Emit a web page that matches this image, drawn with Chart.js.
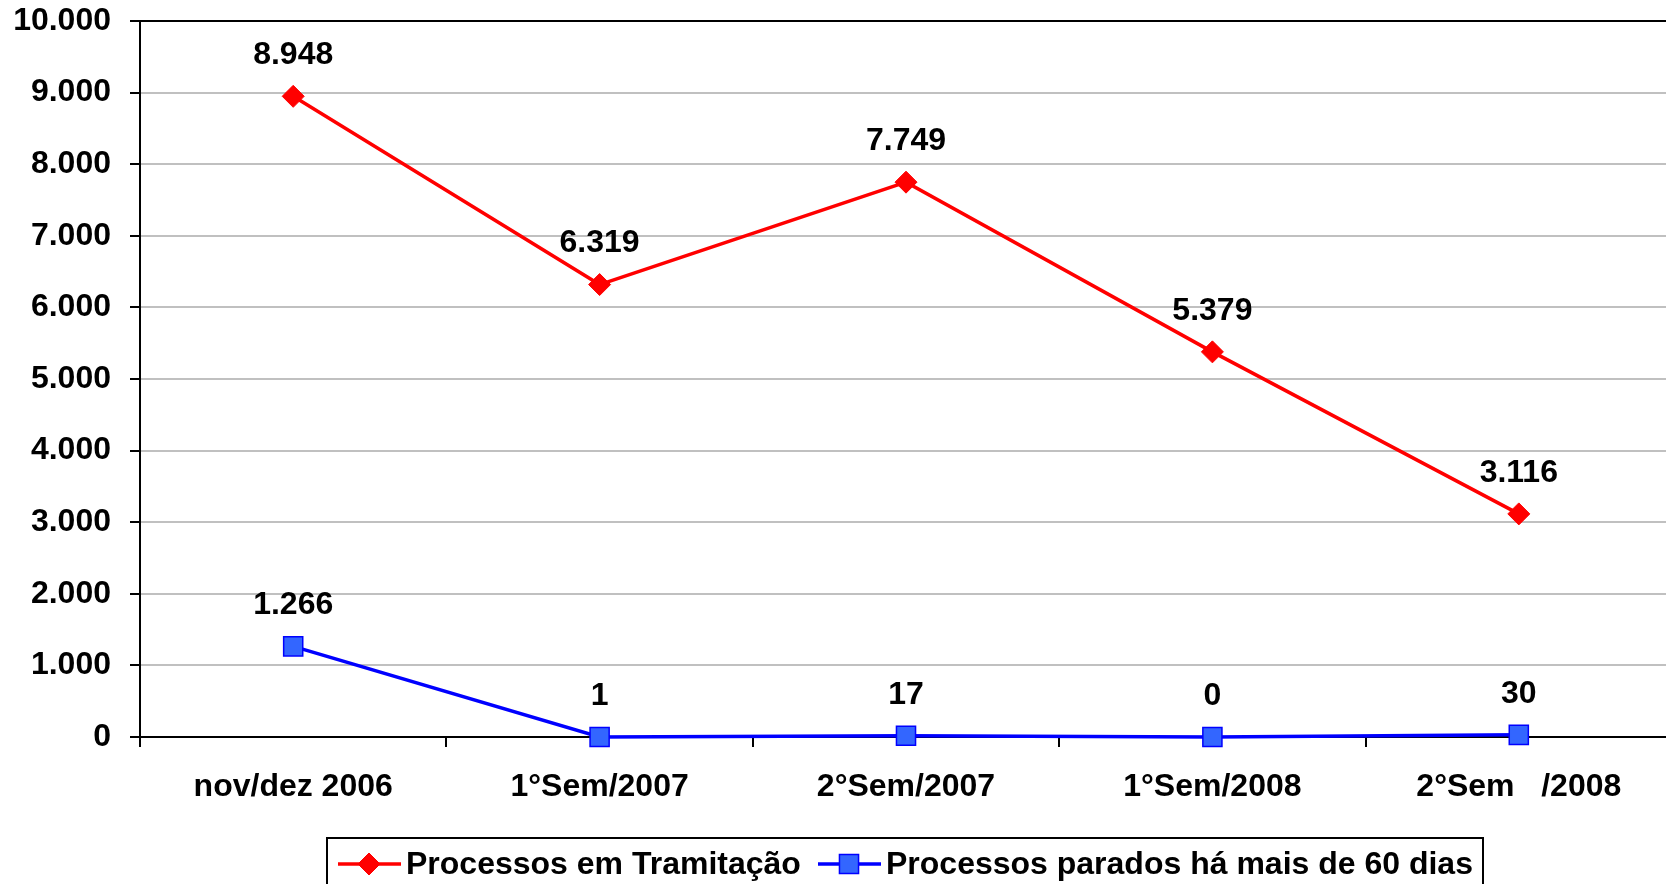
<!DOCTYPE html>
<html lang="pt">
<head>
    <meta charset="UTF-8">
    <title>Processos em Tramitação</title>
    <script src="https://cdn.jsdelivr.net/npm/chart.js"></script>
    <style>
        body {
            margin: 0;
            background: #ffffff;
            overflow: hidden;
        }
        canvas {
            display: block;
        }
    </style>
</head>
<body>
    <!-- um pouco mais largo que a janela: o gráfico original é cortado à direita -->
    <canvas id="grafico" width="1672" height="884"></canvas>

    <script>
        // dados
        const periodos = ['nov/dez 2006', '1°Sem/2007', '2°Sem/2007', '1°Sem/2008', '2°Sem   /2008'];
        const emTramitacao = [8948, 6319, 7749, 5379, 3116];
        const parados60 = [1266, 1, 17, 0, 30];
        const nomesSeries = ['Processos em Tramitação', 'Processos parados há mais de 60 dias'];
        const yMax = 10000;
        const yPasso = 1000;

        const fonte = '"Liberation Sans", Arial, sans-serif';

        // separador de milhar com ponto
        function fmt(v) {
            return String(v).replace(/\B(?=(\d{3})+(?!\d))/g, '.');
        }

        // rótulos de valor acima dos pontos
        const rotulos = {
            id: 'rotulos',
            afterDatasetsDraw(chart) {
                const ctx = chart.ctx;
                ctx.save();
                ctx.font = 'bold 32px ' + fonte;
                ctx.fillStyle = '#000';
                ctx.textAlign = 'center';
                ctx.textBaseline = 'middle';
                chart.data.datasets.forEach((ds, i) => {
                    const meta = chart.getDatasetMeta(i);
                    meta.data.forEach((pt, j) => {
                        ctx.fillText(fmt(ds.data[j]), pt.x, pt.y - 41);
                    });
                });
                ctx.restore();
            }
        };

        // legenda com moldura (cortada embaixo como no original)
        const legenda = {
            id: 'legenda',
            afterDraw(chart) {
                const ctx = chart.ctx;
                ctx.save();
                ctx.lineWidth = 2;
                ctx.strokeStyle = '#000';
                ctx.strokeRect(327, 838, 1156, 60);

                const itens = [
                    { x: 338, ds: chart.data.datasets[0] },
                    { x: 818, ds: chart.data.datasets[1] }
                ];
                const y = 864;
                ctx.font = 'bold 32px ' + fonte;
                ctx.textBaseline = 'middle';
                ctx.textAlign = 'left';
                itens.forEach(it => {
                    const ds = it.ds;
                    ctx.strokeStyle = ds.borderColor;
                    ctx.lineWidth = 3.5;
                    ctx.beginPath();
                    ctx.moveTo(it.x, y);
                    ctx.lineTo(it.x + 63, y);
                    ctx.stroke();
                    ctx.fillStyle = ds.pointBackgroundColor;
                    ctx.strokeStyle = ds.pointBorderColor;
                    ctx.lineWidth = ds.pointBorderWidth;
                    Chart.helpers.drawPoint(ctx, {
                        pointStyle: ds.pointStyle,
                        radius: ds.pointRadius,
                        borderWidth: ds.pointBorderWidth
                    }, it.x + 31, y);
                    ctx.fillStyle = '#000';
                    ctx.fillText(ds.label, it.x + 68, y + 1);
                });
                ctx.restore();
            }
        };

        const ctx = document.getElementById('grafico').getContext('2d');

        const grafico = new Chart(ctx, {
            type: 'line',
            data: {
                labels: periodos,
                datasets: [{
                    label: nomesSeries[0],
                    data: emTramitacao,
                    borderColor: '#ff0000',
                    borderWidth: 3.5,
                    pointStyle: 'rectRot',
                    pointRadius: 11,
                    pointBackgroundColor: '#ff0000',
                    pointBorderColor: '#ff0000',
                    pointBorderWidth: 1,
                    tension: 0,
                    clip: false
                }, {
                    label: nomesSeries[1],
                    data: parados60,
                    borderColor: '#0000ff',
                    borderWidth: 3.5,
                    pointStyle: 'rect',
                    pointRadius: 13.5,
                    pointBackgroundColor: '#3366ff',
                    pointBorderColor: '#0000ff',
                    pointBorderWidth: 1.5,
                    tension: 0,
                    clip: false
                }]
            },
            options: {
                responsive: false,
                animation: false,
                events: [],
                layout: {
                    autoPadding: false,
                    padding: { top: 21, left: 0, right: 0, bottom: 0 }
                },
                plugins: {
                    legend: { display: false },
                    tooltip: { enabled: false }
                },
                scales: {
                    x: {
                        offset: true,
                        grid: {
                            offset: true,
                            drawOnChartArea: false,
                            tickLength: 10,
                            tickColor: '#000',
                            lineWidth: 2
                        },
                        border: { color: '#000', width: 2 },
                        ticks: {
                            color: '#000',
                            font: { family: fonte, size: 32, weight: 'bold' },
                            padding: 21,
                            maxRotation: 0,
                            autoSkip: false
                        },
                        afterFit(s) {
                            s.height = 147;
                            s.paddingLeft = 0;
                            s.paddingRight = 0;
                        }
                    },
                    y: {
                        min: 0,
                        max: yMax,
                        grid: {
                            color: c => c.tick && c.tick.value === yMax ? '#000' : '#c0c0c0',
                            lineWidth: 2,
                            tickLength: 10,
                            tickColor: '#000'
                        },
                        border: { color: '#000', width: 2 },
                        ticks: {
                            stepSize: yPasso,
                            color: '#000',
                            padding: 19,
                            font: { family: fonte, size: 32, weight: 'bold' },
                            callback: v => fmt(v)
                        },
                        afterFit(s) {
                            s.width = 140;
                            s.paddingTop = 0;
                            s.paddingBottom = 0;
                        }
                    }
                }
            },
            plugins: [rotulos, legenda]
        });
    </script>
</body>
</html>
